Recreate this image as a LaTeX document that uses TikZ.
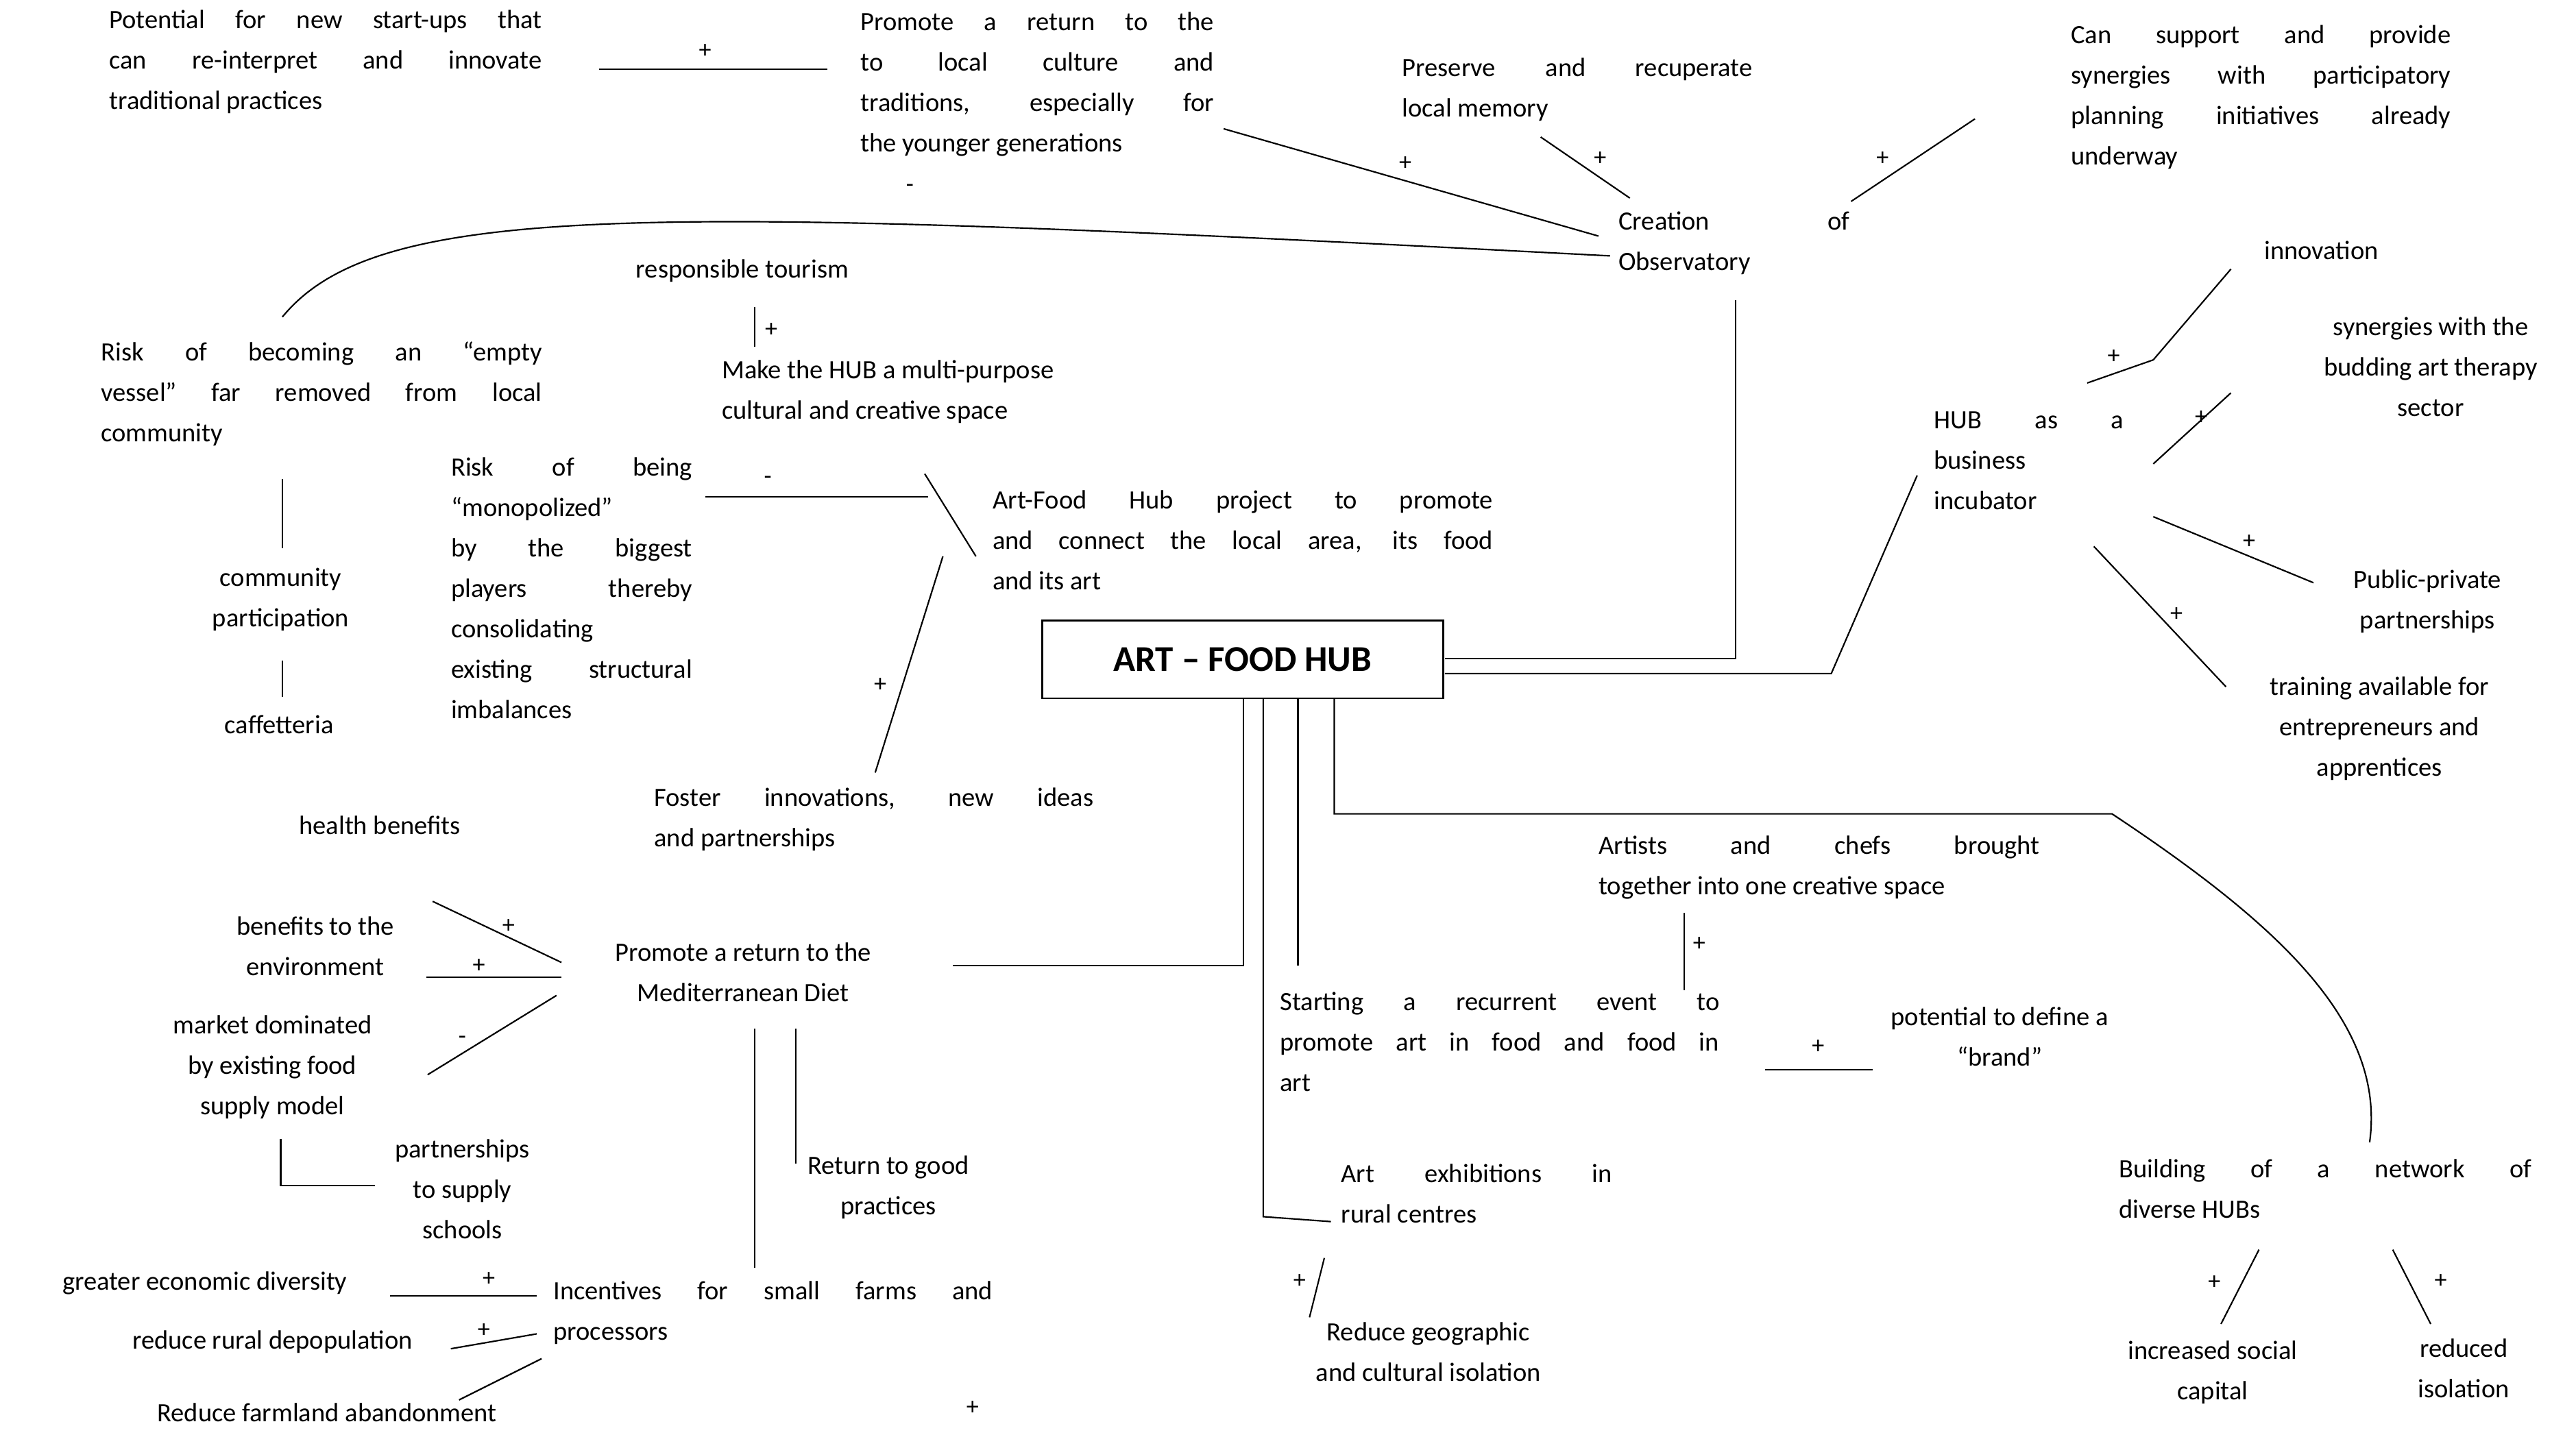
\documentclass[tikz,border=0pt]{standalone}
\usepackage{fontspec}
\setmainfont{Carlito}
\newcommand\J[2]{\makebox[#1pt][s]{#2}}
\begin{document}
\begin{tikzpicture}[x=1pt,y=-1pt,
  t/.style={anchor=north west,inner sep=0pt,align=left,font=\fontsize{16}{24.5}\selectfont},
  c/.style={anchor=north,inner sep=0pt,align=center,font=\fontsize{16}{24.5}\selectfont},
  s/.style={inner sep=0pt,font=\fontsize{15}{15}\selectfont},
  l/.style={line width=0.9pt}]
\useasboundingbox[fill=white] (0,0) rectangle (1560,877);
% top left
\node[t] (n1) at (66,6) {\J{262}{Potential for new start-ups that}\\\J{262}{can re-interpret and innovate}\\traditional practices};
\draw[l] (363,42) -- (501,42); \node[s] at (427,31) {+};
\node[t] (n2) at (521,7) {\J{214}{Promote a return to the}\\\J{214}{to local culture and}\\\J{214}{traditions, especially for}\\the younger generations};
\draw[l] (741,78) -- (968,143); \node[s] at (851,99) {+};
\node[t] (n3) at (849,35) {\J{212}{Preserve and recuperate}\\local memory};
\draw[l] (933,83) -- (987,120); \node[s] at (969,96) {+};
\node[t] (n4) at (1254,15) {\J{230}{Can support and provide}\\\J{230}{synergies with participatory}\\\J{230}{planning initiatives already}\\underway};
\draw[l] (1196,72) -- (1121,122); \node[s] at (1140,96) {+};
\node[t] (obs) at (980,128) {\J{140}{Creation of}\\Observatory};
\draw[l] (171,192) .. controls (230,120) and (400,125) .. (975,155); \node[s] at (551,114) {-};
\draw[l] (1051,182) -- (1051,399) -- (875,399);
% left middle
\node[t] (rt) at (385,157) {responsible tourism};
\draw[l] (457,186) -- (457,210); \node[s] at (467,200) {+};
\node[t] (mh) at (437,218) {Make the HUB a multi-purpose\\cultural and creative space};
\node[t] (ev) at (61,207) {\J{267}{Risk of becoming an “empty}\\\J{267}{vessel” far removed from local}\\community};
\draw[l] (171,290) -- (171,332);
\node[c] (cp) at (170,344) {community\\participation};
\draw[l] (171,400) -- (171,422);
\node[c] (caf) at (169,433) {caffetteria};
\node[t] (mon) at (273,277) {\J{146}{Risk of being}\\“monopolized”\\\J{146}{by the biggest}\\\J{146}{players thereby}\\consolidating\\\J{146}{existing structural}\\imbalances};
\draw[l] (427,301) -- (562,301); \node[s] at (465,291) {-};
\draw[l] (560,287) -- (591,337);
\node[t] (af) at (601,297) {\J{303}{Art-Food Hub project to promote}\\\J{303}{and connect the local area, its food}\\and its art};
\draw[l] (571,337) -- (530,468); \node[s] at (533,415) {+};
\node[draw,line width=1.2pt,minimum width=243pt,minimum height=47pt,inner sep=0pt,font=\fontsize{22}{22}\selectfont\bfseries] (hub) at (752.5,399.5) {ART -- FOOD HUB};
\node[t] (fi) at (396,477) {\J{266}{Foster innovations, new ideas}\\and partnerships};
% right
\node[t] (inc) at (1171,249) {\J{115}{HUB as a}\\business\\incubator};
\draw[l] (875,408) -- (1109,408) -- (1161,288);
\node[t] (inn) at (1371,146) {innovation};
\draw[l] (1351,163) -- (1304,218) -- (1264,232); \node[s] at (1280,216) {+};
\node[c] (syn) at (1472,192) {synergies with the\\budding art therapy\\sector};
\draw[l] (1351,238) -- (1304,281); \node[s] at (1333,253) {+};
\node[c] (pp) at (1470,345) {Public-private\\partnerships};
\draw[l] (1304,313) -- (1401,353); \node[s] at (1362,328) {+};
\node[c] (tr) at (1441,410) {training available for\\entrepreneurs and\\apprentices};
\draw[l] (1268,331) -- (1348,416); \node[s] at (1318,372) {+};
\draw[l] (808,423) -- (808,493) -- (1279,493) .. controls (1380,560) and (1445,620) .. (1435,692);
\node[t] (ac) at (968,506) {\J{267}{Artists and chefs brought}\\together into one creative space};
\draw[l] (1020,553) -- (1020,600); \node[s] at (1029,572) {+};
\draw[l] (786,423) -- (786,585);
\node[t] (se) at (775,601) {\J{266}{Starting a recurrent event to}\\\J{266}{promote art in food and food in}\\art};
\draw[l] (1069,648) -- (1134,648); \node[s] at (1101,634) {+};
\node[c] (br) at (1211,610) {potential to define a\\“brand”};
\draw[l] (765,423) -- (765,737) -- (806,740);
\node[t] (ae) at (812,705) {\J{164}{Art exhibitions in}\\rural centres};
\draw[l] (802,762) -- (793,798); \node[s] at (787,776) {+};
\node[c] (rg) at (865,801) {Reduce geographic\\and cultural isolation};
\node[t] (bn) at (1283,702) {\J{250}{Building of a network of}\\diverse HUBs};
\draw[l] (1368,757) -- (1345,802); \node[s] at (1341,777) {+};
\node[c] (sc) at (1340,812) {increased social\\capital};
\draw[l] (1449,757) -- (1472,802); \node[s] at (1478,776) {+};
\node[c] (ri) at (1492,811) {reduced\\isolation};
% bottom left
\draw[l] (753,423) -- (753,585) -- (577,585);
\node[c] (md) at (450,571) {Promote a return to the\\Mediterranean Diet};
\node[c] (hb) at (230,494) {health benefits};
\draw[l] (262,546) -- (340,583); \node[s] at (308,561) {+};
\node[c] (be) at (191,555) {benefits to the\\environment};
\draw[l] (258,592) -- (340,592); \node[s] at (290,585) {+};
\node[c] (mk) at (165,615) {market dominated\\by existing food\\supply model};
\draw[l] (259,651) -- (337,603); \node[s] at (280,630) {-};
\draw[l] (170,690) -- (170,718) -- (227,718);
\node[c] (ps) at (280,690) {partnerships\\to supply\\schools};
\draw[l] (457,623) -- (457,768);
\draw[l] (482,623) -- (482,705);
\node[c] (gp) at (538,700) {Return to good\\practices};
\node[t] (isf) at (335,776) {\J{266}{Incentives for small farms and}\\processors};
\node[c] (ge) at (124,770) {greater economic diversity};
\draw[l] (236,785) -- (325,785); \node[s] at (296,775) {+};
\node[c] (rd) at (165,806) {reduce rural depopulation};
\draw[l] (273,817) -- (325,808); \node[s] at (293,806) {+};
\node[c] (rf) at (198,850) {Reduce farmland abandonment};
\draw[l] (278,848) -- (328,823);
\node[s] at (589,853) {+};
\end{tikzpicture}
\end{document}
